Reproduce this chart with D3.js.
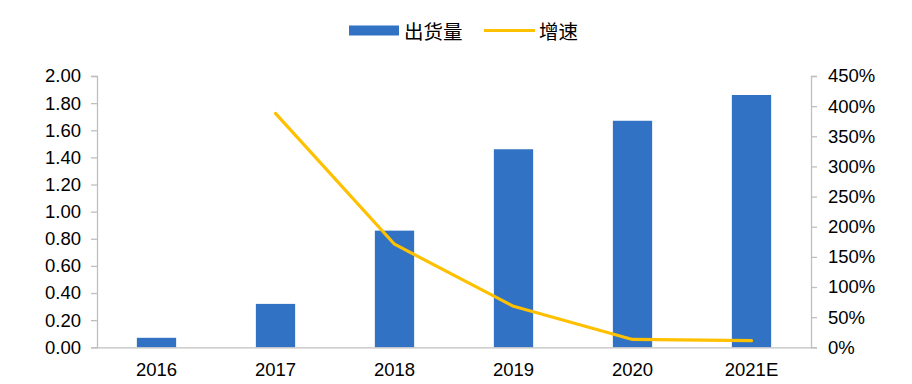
<!DOCTYPE html>
<html><head><meta charset="utf-8">
<script src="https://cdn.jsdelivr.net/npm/d3@7"></script>
<style>body{margin:0;background:#fff}svg{display:block}text{font-family:"Liberation Sans",Arial,sans-serif}</style>
</head><body><svg id="c" width="912" height="384"></svg>
<script>
const categories = ["2016","2017","2018","2019","2020","2021E"];
const shipments = [0.07,0.32,0.86,1.46,1.67,1.86];
const growth = [null,388,171,68,13,11];
const leftTicks = [0,0.2,0.4,0.6,0.8,1.0,1.2,1.4,1.6,1.8,2.0];
const rightTicks = [0,50,100,150,200,250,300,350,400,450];
const seriesNames = ["出货量","增速"];

const svg = d3.select("#c");
const L = 97, R = 811, T = 76, B = 347.3;
const x = d3.scaleBand().domain(categories).range([L,R]).paddingInner(0.67).paddingOuter(0.335);
const yL = d3.scaleLinear().domain([0,2]).range([B,T]);
const yR = d3.scaleLinear().domain([0,450]).range([B,T]);
const axisCol = "#BFBFBF";

// bars
svg.append("g").selectAll("rect").data(shipments).join("rect")
  .attr("x",(d,i)=>x(categories[i])).attr("width",x.bandwidth())
  .attr("y",d=>yL(d)).attr("height",d=>B-yL(d)).attr("fill","#3172C4");

// axes
const gl = svg.append("g").attr("transform",`translate(${L},0)`)
  .call(d3.axisLeft(yL).tickValues(leftTicks).tickFormat(d3.format(".2f")).tickSize(6).tickPadding(10));
const gr = svg.append("g").attr("transform",`translate(${R},0)`)
  .call(d3.axisRight(yR).tickValues(rightTicks).tickFormat(d=>d+"%").tickSize(6).tickPadding(11));
const gx = svg.append("g").attr("transform",`translate(0,${B})`)
  .call(d3.axisBottom(x).tickSize(0).tickPadding(16));
[gl,gr,gx].forEach(g=>{
  g.select(".domain").attr("stroke",axisCol).attr("stroke-width",1.3);
  g.selectAll(".tick line").attr("stroke",axisCol).attr("stroke-width",1.3);
  g.selectAll(".tick text").attr("fill","#000").style("font-size","18.5px").style("font-family",'"Liberation Sans",Arial,sans-serif');
});
gx.select(".domain").attr("d",`M${L},0.5H${R}`);

// line
const line = d3.line().defined(d=>d!=null)
  .x((d,i)=>x(categories[i])+x.bandwidth()/2).y(d=>yR(d));
svg.append("path").datum(growth).attr("d",line).attr("fill","none")
  .attr("stroke","#FFC000").attr("stroke-width",3.2).attr("stroke-linejoin","round").attr("stroke-linecap","round");

// legend
const lg = svg.append("g");
lg.append("rect").attr("x",349).attr("y",25.5).attr("width",50).attr("height",10).attr("fill","#3172C4");
lg.append("text").attr("x",404).attr("y",38.5).text(seriesNames[0]).style("font-size","19.5px").style("font-family",'"Noto Sans CJK SC",sans-serif');
lg.append("line").attr("x1",484).attr("x2",535).attr("y1",30.5).attr("y2",30.5).attr("stroke","#FFC000").attr("stroke-width",3.2);
lg.append("text").attr("x",539).attr("y",38.5).text(seriesNames[1]).style("font-size","19.5px").style("font-family",'"Noto Sans CJK SC",sans-serif');
</script></body></html>
